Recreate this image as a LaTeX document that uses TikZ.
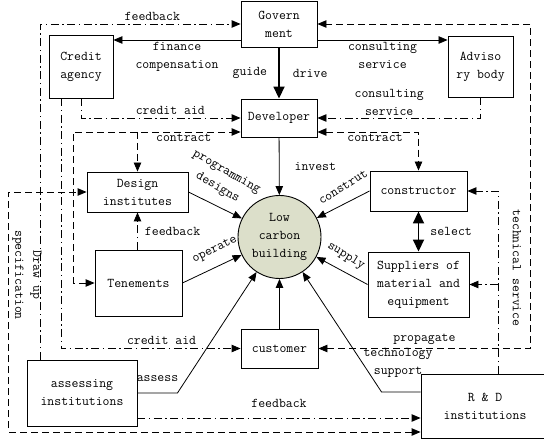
\documentclass[tikz,border=0pt]{standalone}
\usepackage{fontspec}
\usetikzlibrary{arrows.meta,calc,positioning}
\definecolor{lcbfill}{RGB}{220,223,202}
\tikzstyle{unit}=[rectangle,draw=black,line width=0.9bp,inner sep=2bp,align=center]
\tikzstyle{core}=[circle,draw=black,line width=0.9bp,fill=lcbfill,minimum size=83bp,
inner sep=0pt,align=center]
\tikzstyle{flow}=[->,line width=0.8bp]
\tikzstyle{mainflow}=[-{Triangle[length=12bp,width=11bp]},line width=1.8bp]
\tikzstyle{info}=[->,line width=0.9bp,dash pattern=on 8bp off 3.5bp on 1.5bp off 3.5bp]
\tikzstyle{deal}=[line width=0.9bp,dash pattern=on 7bp off 4bp]
\tikzstyle{lbl}=[inner sep=1bp,align=center]

\begin{document}
\begin{tikzpicture}[x=1bp,y=-1bp,>={Triangle[length=9bp,width=7.5bp]},
    font=\ttfamily\fontsize{13.4bp}{18bp}\selectfont]
    \useasboundingbox (0,0) rectangle (544,439);

    % actors
    \node[unit,minimum width=76bp,minimum height=46bp] (gov) at (279,24) {Govern\\ment};
    \node[unit,minimum width=64bp,minimum height=63bp] (credit) at (81,66.5) {Credit\\agency};
    \node[unit,minimum width=65bp,minimum height=61bp] (adv) at (480.5,66.5) {Adviso\\ry body};
    \node[unit,minimum width=76bp,minimum height=38bp] (dev) at (279,118) {Developer};
    \node[unit,minimum width=101bp,minimum height=40bp] (design) at (137.5,192) {Design\\institutes};
    \node[unit,minimum width=87bp,minimum height=66bp] (ten) at (138.5,283) {Tenements};
    \node[core] (lcb) at (279.5,237) {Low\\carbon\\building};
    \node[unit,minimum width=97bp,minimum height=40bp] (cons) at (418.5,191) {constructor};
    \node[unit,minimum width=101bp,minimum height=65bp] (sup) at (418.5,284.5) {Suppliers of\\material and\\equipment};
    \node[unit,minimum width=77bp,minimum height=39bp] (cust) at (279.5,348.5) {customer};
    \node[unit,minimum width=110bp,minimum height=66bp] (assess) at (82,393) {assessing\\institutions};
    \node[unit,minimum width=128bp,minimum height=64bp] (rd) at (485,406) {R \& D\\institutions};

    \coordinate (gl) at ([yshift=-16bp]gov.west);
    \coordinate (gr) at ([yshift=-16bp]gov.east);
    \coordinate (cl) at ([yshift=-14bp]dev.west);
    \coordinate (cr) at ([yshift=-14bp]dev.east);
    \coordinate (fb) at ([yshift=-25bp]assess.east);
    \coordinate (ds) at ([yshift=-26bp]rd.west);
    \coordinate (ts) at ([xshift=13bp]rd.north);

    % government
    \draw[mainflow] (gov) -- (dev) node[lbl,midway,left=10bp]{guide} node[lbl,midway,right=12bp]{drive};
    \draw[flow] (gl) -- (gl -| credit.east) node[lbl,midway,below=1bp]{finance\\compensation};
    \draw[flow] (gr) -- (gr -| adv.west) node[lbl,midway,below=1bp]{consulting\\service};
    \draw[info] ([xshift=-42bp]assess.north) |- (gov.west) node[lbl,pos=0.78,above=2bp]{feedback};
    \draw[deal,<->] (cust.east) -| ([xshift=213bp]gov.east) node[lbl,pos=0.25,above=2bp]{propagate} -- (gov.east);

    % developer
    \draw[info] (credit.south) |- (dev.west) node[lbl,pos=0.78,above=2bp]{credit aid};
    \draw[info] ([xshift=-20bp]credit.south) |- (cust.west) node[lbl,pos=0.78,above=2bp]{credit aid};
    \draw[info] (adv.south) |- (dev.east) node[lbl,pos=0.78,above=1bp]{consulting\\service};
    \draw[deal,<->] (ten.west) -- ++(-21,0) |- (cl) node[lbl,pos=0.83,below=1bp]{contract};
    \draw[deal,->] (cl -| design.north) -- (design.north);
    \draw[deal,<->] (cr) -| (cons.north) node[lbl,pos=0.285,below=1bp]{contract};

    % into the building
    \draw[flow] (dev) -- (lcb) node[lbl,midway,right=14bp]{invest};
    \draw[flow] (design.east) -- (lcb);
    \node[lbl,rotate=-30] (prg) at (222,180) {programming\\designs};
    \draw[flow] (ten.east) -- (lcb);
    \node[lbl,rotate=27] (opr) at (215,250) {operate};
    \draw[flow] (cons.west) -- (lcb);
    \node[lbl,rotate=32] (cst) at (343,187) {construt};
    \draw[flow] (sup.west) -- (lcb);
    \node[lbl,rotate=-32] (spl) at (346,256) {supply};
    \draw[flow] (cust) -- (lcb);
    \draw[flow] (assess.east) -- ++(40,0) node[lbl,midway,above=10bp]{assess} -- (lcb);
    \draw[flow] ([yshift=14bp]rd.west) -- ++(-39,0) -- (lcb);
    \node[lbl] (tsp) at (398,363) {technology\\support};

    % design, suppliers, R&D
    \draw[info] (design.south |- ten.north) -- (design.south) node[lbl,midway,right=6bp]{feedback};
    \draw[mainflow,{Triangle[length=12bp,width=11bp]}-{Triangle[length=12bp,width=11bp]}] (cons) -- (sup) node[lbl,midway,right=10bp]{select};
    \draw[info] (fb) -- (fb -| rd.west) node[lbl,midway,above=9bp]{feedback};
    \draw[deal,<->] (ds) -| ([xshift=-78bp]design.west) -- (design.west);
    \node[lbl,rotate=-90] (dus) at (27,275) {Draw up\\specification};
    \draw[info] (ts) |- (cons.east);
    \draw[info] (ts |- sup.east) -- (sup.east);
    \node[lbl,rotate=-90] (tsv) at (517,268) {technical service};
\end{tikzpicture}
\end{document}
